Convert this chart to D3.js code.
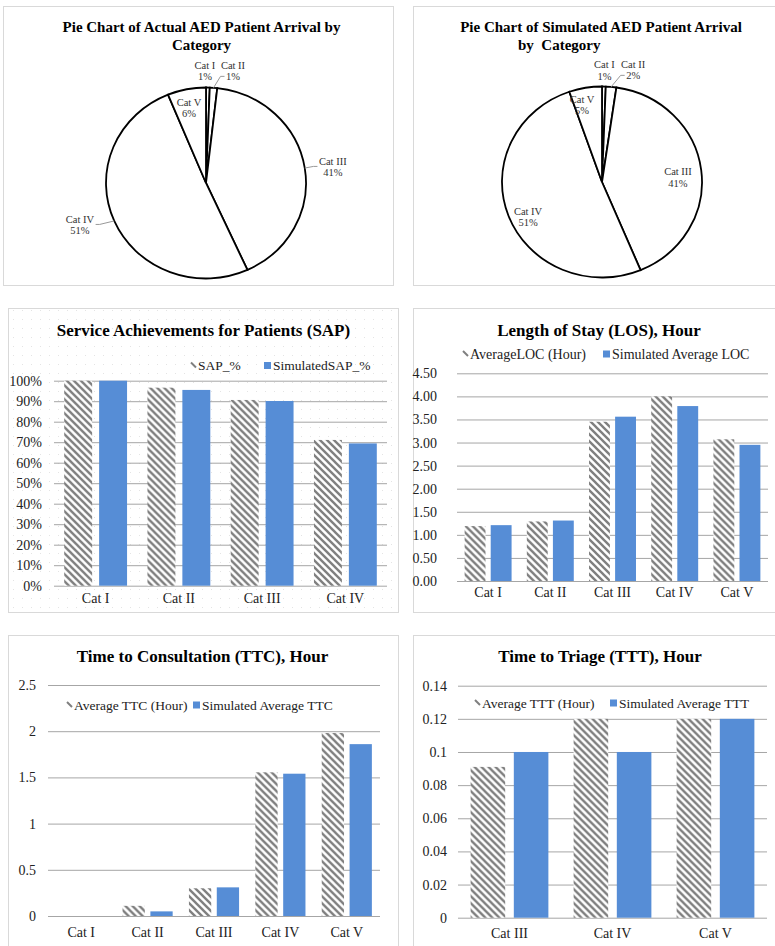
<!DOCTYPE html>
<html>
<head>
<meta charset="utf-8">
<script src="https://cdn.jsdelivr.net/npm/d3@7"></script>
<style>
  body { margin: 0; background: #fff; }
  svg { display: block; font-family: "Liberation Serif", "Times New Roman", serif; }
</style>
</head>
<body>
<script>
/////////// DATA //////////
const pieCategories = ["Cat I", "Cat II", "Cat III", "Cat IV", "Cat V"]; // pie slice names
const actualArrival = [0.6, 1.2, 41.4, 50.6, 6.2];     // % of actual arrivals
const simulatedArrival = [0.6, 1.7, 41.4, 51.0, 5.3];  // % of simulated arrivals

const sapCategories = ["Cat I", "Cat II", "Cat III", "Cat IV"];
const sapSeries = ["SAP_%", "SimulatedSAP_%"];
const sapActual = [1.00, 0.966, 0.906, 0.711];
const sapSimulated = [1.00, 0.955, 0.901, 0.694];
const sapTicks = [0, 0.1, 0.2, 0.3, 0.4, 0.5, 0.6, 0.7, 0.8, 0.9, 1.0];

const losCategories = ["Cat I", "Cat II", "Cat III", "Cat IV", "Cat V"];
const losSeries = ["AverageLOC (Hour)", "Simulated Average LOC"];
const losActual = [1.19, 1.29, 3.45, 4.00, 3.07];
const losSimulated = [1.21, 1.31, 3.56, 3.79, 2.95];
const losTicks = [0, 0.5, 1, 1.5, 2, 2.5, 3, 3.5, 4, 4.5];

const ttcCategories = ["Cat I", "Cat II", "Cat III", "Cat IV", "Cat V"];
const ttcSeries = ["Average TTC (Hour)", "Simulated Average TTC"];
const ttcActual = [0, 0.11, 0.30, 1.555, 1.98];
const ttcSimulated = [0, 0.05, 0.31, 1.54, 1.86];
const ttcTicks = [0, 0.5, 1, 1.5, 2, 2.5];

const tttCategories = ["Cat III", "Cat IV", "Cat V"];
const tttSeries = ["Average TTT (Hour)", "Simulated Average TTT"];
const tttActual = [0.091, 0.12, 0.12];
const tttSimulated = [0.10, 0.10, 0.12];
const tttTicks = [0, 0.02, 0.04, 0.06, 0.08, 0.1, 0.12, 0.14];

/////////// STYLE //////////
const width = 775, height = 946;
const blue = "#568dd6";   // simulated series
const hatchGray = "#7f7f7f"; // actual series stripes
const gridGray = "#a6a6a6";
const borderGray = "#d9d9d9";
const textColor = "#222";

const svg = d3.select("body").append("svg")
    .attr("width", width)
    .attr("height", height);

const defs = svg.append("defs");
const hatch = defs.append("pattern") // wide downward diagonal
    .attr("id", "hatch")
    .attr("patternUnits", "userSpaceOnUse")
    .attr("width", 7).attr("height", 7);
hatch.append("rect").attr("width", 7).attr("height", 7).attr("fill", "#fff");
hatch.append("path")
    .attr("d", "M-2,-2 L9,9 M-2,5 L2,9 M5,-2 L9,2")
    .attr("stroke", hatchGray).attr("stroke-width", 2.4);

const dots = defs.append("pattern") // faint dotted chart-area fill
    .attr("id", "dots")
    .attr("patternUnits", "userSpaceOnUse")
    .attr("width", 9).attr("height", 9);
dots.append("rect").attr("width", 9).attr("height", 9).attr("fill", "#fff");
dots.append("rect").attr("x", 4).attr("y", 4).attr("width", 1).attr("height", 1).attr("fill", "#e4e4e4");

function panel(box, fill) { // chart frame
    svg.append("rect")
        .attr("x", box.x + 0.5).attr("y", box.y + 0.5)
        .attr("width", box.w).attr("height", box.h)
        .attr("fill", fill || "#fff")
        .attr("stroke", borderGray);
}

/////////// PIES //////////
function drawPie(cfg, values) {
    panel(cfg.box);
    cfg.title.forEach(t => {
        svg.append("text")
            .attr("x", t.x).attr("y", t.y)
            .attr("text-anchor", t.anchor || "middle")
            .attr("font-size", 15).attr("font-weight", "bold")
            .style("white-space", "pre")
            .text(t.text);
    });

    const pie = d3.pie().sort(null).value(d => d);
    const arcs = pie(values);
    const arc = d3.arc().innerRadius(0).outerRadius(cfg.r);

    svg.append("g") // slightly squashed, like the source image
        .attr("transform", `translate(${cfg.cx},${cfg.cy}) scale(1,${cfg.ky})`)
        .selectAll("path")
        .data(arcs)
        .join("path")
        .attr("d", arc)
        .attr("fill", "#fff")
        .attr("stroke", "#000")
        .attr("stroke-width", 1.8)
        .attr("vector-effect", "non-scaling-stroke");

    const pct = d3.format(".0%");
    const toXY = (a, rr) => [cfg.cx + rr * Math.sin(a), cfg.cy - rr * cfg.ky * Math.cos(a)];

    arcs.forEach((d, i) => {
        const [deg, rf] = cfg.labelPolar[i]; // label spot: angle + radius factor
        const [lx, ly] = toXY(deg * Math.PI / 180, rf * cfg.r);
        const g = svg.append("g").attr("font-size", 10.5).attr("fill", "#333");
        const t1 = g.append("text").attr("x", lx).attr("y", ly - 1.5).attr("text-anchor", "middle").text(pieCategories[i]);
        const t2 = g.append("text").attr("x", lx).attr("y", ly + 10).attr("text-anchor", "middle").text(pct(d.data / 100));
        const lead = cfg.leaders[i];
        if (lead == null) return;
        const mid = (d.startAngle + d.endAngle) / 2;
        const p0 = toXY(mid, cfg.r);
        const half = Math.max(t1.node().getComputedTextLength(), t2.node().getComputedTextLength()) / 2;
        const w2 = t2.node().getComputedTextLength() / 2;
        const side = p0[0] < lx ? -1 : 1;
        const edge = lx + side * ((lead === 2 ? w2 : half) + 1.5);
        const ty = lead === 2 ? ly + 6 : ly;
        g.append("polyline")
            .attr("points", [p0, [edge + side * 4, ty], [edge, ty]].map(p => p.join(",")).join(" "))
            .attr("fill", "none").attr("stroke", "#999").attr("stroke-width", 1);
    });
}

drawPie({
    box: {x: 3, y: 6, w: 390, h: 279},
    title: [{text: "Pie Chart of Actual AED Patient Arrival by", x: 201.5, y: 32},
            {text: "Category", x: 201.5, y: 50}],
    cx: 206, cy: 183, r: 100, ky: 0.955,
    labelPolar: [[-0.5, 1.18], [12.9, 1.21], [82.2, 1.28], [251, 1.333], [347.9, 0.81]],
    leaders: [null, 2, 0, 0, null]
}, actualArrival);

drawPie({
    box: {x: 413, y: 6, w: 363, h: 279},
    title: [{text: "Pie Chart of Simulated AED Patient Arrival", x: 601, y: 32},
            {text: "by  Category", x: 518, y: 50, anchor: "start"}],
    cx: 602, cy: 182, r: 100, ky: 0.955,
    labelPolar: [[1.2, 1.178], [14.8, 1.22], [85.7, 0.762], [244, 0.823], [346.2, 0.836]],
    leaders: [null, 2, null, null, null]
}, simulatedArrival);

/////////// BAR CHARTS //////////
function drawBars(cfg, categories, series, actual, simulated, ticks, fmt) {
    panel(cfg.box, cfg.dotted ? "url(#dots)" : "#fff");
    const p = cfg.plot;

    svg.append("text") // chart title
        .attr("x", cfg.title.x).attr("y", cfg.title.y)
        .attr("text-anchor", "middle")
        .attr("font-size", 17).attr("font-weight", "bold")
        .text(cfg.title.text);

    const y = d3.scaleLinear().domain([0, d3.max(ticks)]).range([p.bottom, p.top]);
    const x0 = d3.scaleBand().domain(categories).range([p.left, p.right])
        .paddingInner(0.245).paddingOuter(0.1225);
    const x1 = d3.scaleBand().domain([0, 1]).range([0, x0.bandwidth()]).paddingInner(0.2);

    const yAxis = svg.append("g") // gridlines + tick labels
        .attr("transform", `translate(${p.left},0)`)
        .call(d3.axisLeft(y).tickValues(ticks).tickFormat(fmt)
            .tickSize(-(p.right - p.left)).tickPadding(p.left - cfg.tickRight))
        .attr("font-family", null).attr("font-size", 14);
    yAxis.select(".domain").remove();
    yAxis.selectAll("line").attr("stroke", gridGray);
    yAxis.selectAll("text").attr("fill", textColor);

    const rows = categories.map((c, i) => ({cat: c, vals: [actual[i], simulated[i]]}));
    svg.append("g")
        .selectAll("g")
        .data(rows)
        .join("g")
        .attr("transform", d => `translate(${x0(d.cat)},0)`)
        .selectAll("rect")
        .data(d => d.vals.map((v, k) => ({k, v})))
        .join("rect")
        .attr("x", d => x1(d.k))
        .attr("width", x1.bandwidth())
        .attr("y", d => y(d.v))
        .attr("height", d => y(0) - y(d.v))
        .attr("fill", d => d.k === 0 ? "url(#hatch)" : blue);

    const xAxis = svg.append("g") // category labels
        .attr("transform", `translate(0,${p.bottom})`)
        .call(d3.axisBottom(x0).tickSize(0).tickPadding(0))
        .attr("font-family", null).attr("font-size", 14);
    xAxis.select(".domain").remove();
    xAxis.selectAll("text")
        .attr("fill", textColor)
        .attr("dy", null).attr("y", cfg.xLabelY - p.bottom);

    const lg = svg.append("g").attr("font-size", cfg.legend.size).attr("fill", textColor); // legend
    series.forEach((s, k) => {
        const lx = cfg.legend.x[k], ly = cfg.legend.y;
        if (k === 0) {
            lg.append("line")
                .attr("x1", lx).attr("y1", ly - 3).attr("x2", lx + 5).attr("y2", ly + 2)
                .attr("stroke", hatchGray).attr("stroke-width", 2);
            lg.append("text").attr("x", lx + 7).attr("y", ly + 4.5).text(s);
        } else {
            lg.append("rect")
                .attr("x", lx).attr("y", ly - 3.5).attr("width", 7).attr("height", 7)
                .attr("fill", blue);
            lg.append("text").attr("x", lx + 9).attr("y", ly + 4.5).text(s);
        }
    });
}

drawBars({
    box: {x: 8, y: 308, w: 390, h: 304}, dotted: true,
    title: {text: "Service Achievements for Patients (SAP)", x: 203.5, y: 336},
    plot: {left: 54, right: 387, top: 380.7, bottom: 585.7},
    tickRight: 42, xLabelY: 603,
    legend: {y: 365.5, x: [191, 264], size: 13.5}
}, sapCategories, sapSeries, sapActual, sapSimulated, sapTicks, d3.format(".0%"));

drawBars({
    box: {x: 413, y: 308, w: 363, h: 304},
    title: {text: "Length of Stay (LOS), Hour", x: 599, y: 336},
    plot: {left: 457, right: 768, top: 373.3, bottom: 581},
    tickRight: 437, xLabelY: 597,
    legend: {y: 354, x: [463, 603], size: 14}
}, losCategories, losSeries, losActual, losSimulated, losTicks, d3.format(".2f"));

drawBars({
    box: {x: 8, y: 635, w: 390, h: 312},
    title: {text: "Time to Consultation (TTC), Hour", x: 202.5, y: 662},
    plot: {left: 48, right: 380, top: 685, bottom: 916},
    tickRight: 36, xLabelY: 937,
    legend: {y: 705, x: [67, 193], size: 13.5}
}, ttcCategories, ttcSeries, ttcActual, ttcSimulated, ttcTicks, d => String(d));

drawBars({
    box: {x: 413, y: 635, w: 363, h: 312},
    title: {text: "Time to Triage (TTT), Hour", x: 600, y: 662},
    plot: {left: 458, right: 767, top: 685.7, bottom: 917.7},
    tickRight: 447, xLabelY: 938,
    legend: {y: 703, x: [475, 610], size: 13.5}
}, tttCategories, tttSeries, tttActual, tttSimulated, tttTicks, d => String(d));
</script>
</body>
</html>
